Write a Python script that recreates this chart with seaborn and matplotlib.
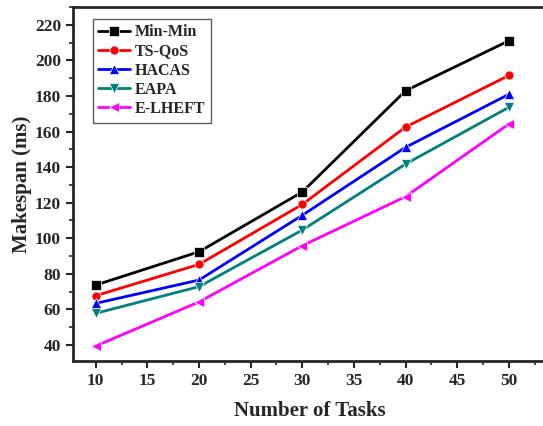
import matplotlib
matplotlib.use("Agg")
import matplotlib.pyplot as plt
import seaborn as sns
import pandas as pd
from matplotlib.ticker import MultipleLocator

tasks = [10, 20, 30, 40, 50]
min_min = [73.7, 92.4, 126.0, 182.9, 211.0]
ts_qos = [67.7, 85.3, 119.0, 162.5, 191.5]
hacas = [63.4, 76.5, 112.9, 151.1, 180.9]
eapa = [57.8, 72.8, 104.6, 141.7, 173.6]
e_lheft = [39.4, 64.2, 95.8, 123.4, 164.2]

series = {"Min-Min": min_min, "TS-QoS": ts_qos, "HACAS": hacas,
          "EAPA": eapa, "E-LHEFT": e_lheft}
colors = {"Min-Min": "#000000", "TS-QoS": "#ff0000", "HACAS": "#0000ff",
          "EAPA": "#008080", "E-LHEFT": "#ff00ff"}
markers = {"Min-Min": "s", "TS-QoS": "o", "HACAS": "^",
           "EAPA": "v", "E-LHEFT": "<"}

rows = []
for name, vals in series.items():
    for x, y in zip(tasks, vals):
        rows.append({"Tasks": x, "Makespan": y, "Method": name})
df = pd.DataFrame(rows)

sns.set_style("ticks")
plt.rcParams["font.family"] = ["Liberation Serif", "DejaVu Serif"]
plt.rcParams["font.weight"] = "bold"

fig = plt.figure(figsize=(5.43, 4.26), dpi=100)
ax = fig.add_axes([0.1339, 0.1526, 0.8735, 0.831])

sns.lineplot(data=df, x="Tasks", y="Makespan", hue="Method", style="Method",
             hue_order=list(series.keys()), style_order=list(series.keys()),
             palette=colors, markers=markers, dashes=False, ax=ax,
             linewidth=2.0, markersize=6.5, markeredgewidth=0.5)

ax.set_xlim(7.77, 53.7)
ax.set_ylim(31, 230)
ax.xaxis.set_major_locator(MultipleLocator(5))
ax.xaxis.set_minor_locator(MultipleLocator(2.5))
ax.yaxis.set_major_locator(MultipleLocator(20))
ax.yaxis.set_minor_locator(MultipleLocator(10))
ax.set_yticks(range(40, 221, 20))
ax.tick_params(axis="both", which="major", direction="out", length=5, width=1.5,
               labelsize=12.5)
ax.tick_params(axis="both", which="minor", direction="out", length=3, width=1.2)
for lbl in ax.get_xticklabels() + ax.get_yticklabels():
    lbl.set_fontweight("bold")
for sp in ax.spines.values():
    sp.set_linewidth(2)
    sp.set_visible(True)

ax.set_xlabel("Number of Tasks", fontsize=15, fontweight="bold", labelpad=9)
ax.set_ylabel("Makespan (ms)", fontsize=15, fontweight="bold", labelpad=2)

leg = ax.legend(loc="upper left", bbox_to_anchor=(0.042, 0.967), fontsize=11.5,
                handlelength=2.0, handletextpad=0.3, labelspacing=0.2,
                borderpad=0.35, borderaxespad=0.0, frameon=True, fancybox=False,
                title=None)
leg.get_frame().set_edgecolor("#333333")
leg.get_frame().set_linewidth(1.0)
for t in leg.get_texts():
    t.set_fontweight("bold")

fig.savefig("out.png", dpi=100)
